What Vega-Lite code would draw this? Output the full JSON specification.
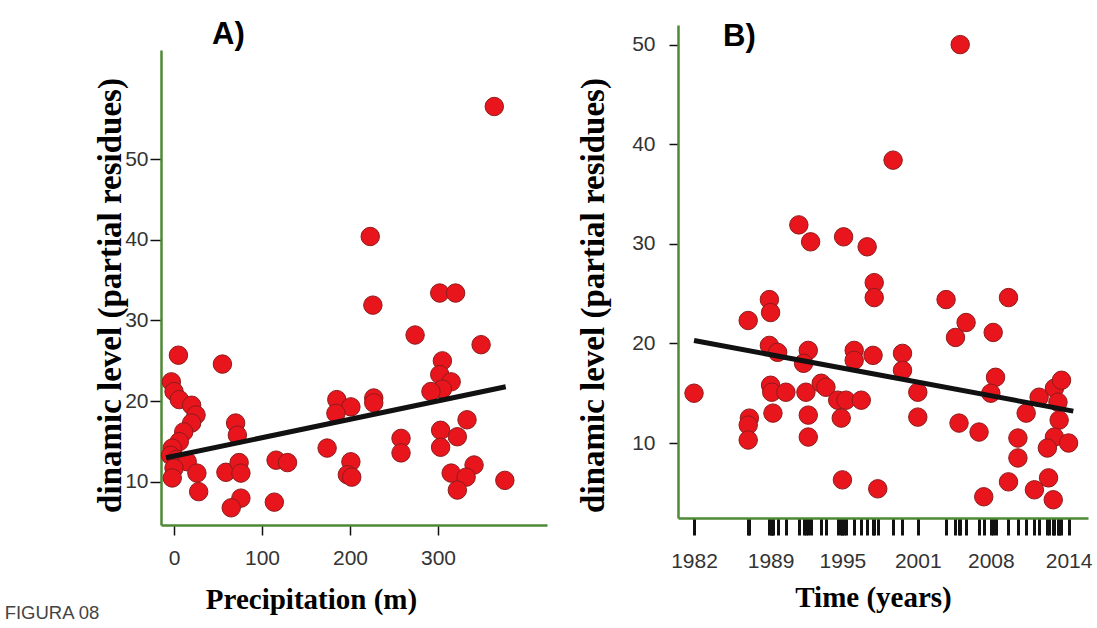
{
  "$schema": "https://vega.github.io/schema/vega-lite/v6.json",
  "background": "white",
  "padding": {"left": 4, "top": 19, "right": 5, "bottom": 5},
  "spacing": 30,
  "title": {"text": "FIGURA 08", "orient": "bottom", "anchor": "start", "frame": "bounds", "font": "Liberation Sans", "fontSize": 18.5, "fontWeight": "normal", "color": "#444", "baseline": "top", "offset": -10, "dx": -90},
  "config": {
    "view": {"stroke": null},
    "axis": {"grid": false, "domainColor": "#4e8a35", "domainWidth": 2.5, "tickColor": "#111", "tickWidth": 1.5, "labelFont": "Liberation Sans", "labelFontSize": 21, "labelColor": "#333", "titleFont": "Liberation Serif", "titleFontWeight": "bold", "titleColor": "#000"}
  },
  "hconcat": [
    {
      "width": 386,
      "height": 500,
      "title": {"text": "A)", "anchor": "start", "frame": "group", "dx": 51, "fontSize": 31, "font": "Liberation Sans", "fontWeight": "bold", "color": "#000", "baseline": "alphabetic", "offset": -50},
      "layer": [
        {
          "data": {"values": [
            {"precip": 364, "level": 56.5}, {"precip": 223, "level": 40.4}, {"precip": 226, "level": 31.9}, {"precip": 274, "level": 28.2},
            {"precip": 302, "level": 33.4}, {"precip": 320, "level": 33.4}, {"precip": 349, "level": 27.0}, {"precip": 305, "level": 25.0},
            {"precip": 302, "level": 23.3}, {"precip": 315, "level": 22.4}, {"precip": 305, "level": 21.5}, {"precip": 292, "level": 21.2},
            {"precip": 333, "level": 17.7}, {"precip": 303, "level": 16.4}, {"precip": 322, "level": 15.6}, {"precip": 303, "level": 14.3},
            {"precip": 341, "level": 12.1}, {"precip": 315, "level": 11.1}, {"precip": 332, "level": 10.6}, {"precip": 322, "level": 9.0},
            {"precip": 376, "level": 10.2}, {"precip": 185, "level": 20.2}, {"precip": 201, "level": 19.3}, {"precip": 184, "level": 18.5},
            {"precip": 227, "level": 20.4}, {"precip": 227, "level": 19.8}, {"precip": 174, "level": 14.2}, {"precip": 258, "level": 15.4},
            {"precip": 258, "level": 13.6}, {"precip": 201, "level": 12.5}, {"precip": 197, "level": 10.9}, {"precip": 202, "level": 10.6},
            {"precip": 5, "level": 25.7}, {"precip": 55, "level": 24.6}, {"precip": -3, "level": 22.4}, {"precip": 0, "level": 21.2},
            {"precip": 6, "level": 20.2}, {"precip": 20, "level": 19.5}, {"precip": 25, "level": 18.3}, {"precip": 20, "level": 17.3},
            {"precip": 11, "level": 16.2}, {"precip": 6, "level": 15.0}, {"precip": -2, "level": 14.2}, {"precip": -4, "level": 13.3},
            {"precip": 3, "level": 12.8}, {"precip": 15, "level": 12.5}, {"precip": 0, "level": 11.7}, {"precip": -2, "level": 10.5},
            {"precip": 26, "level": 11.1}, {"precip": 28, "level": 8.8}, {"precip": 70, "level": 17.3}, {"precip": 72, "level": 15.8},
            {"precip": 59, "level": 11.2}, {"precip": 74, "level": 12.4}, {"precip": 76, "level": 11.1}, {"precip": 76, "level": 8.0},
            {"precip": 65, "level": 6.8}, {"precip": 116, "level": 12.7}, {"precip": 129, "level": 12.4}, {"precip": 114, "level": 7.5}
          ]},
          "mark": {"type": "circle", "size": 340, "fill": "#e8151d", "stroke": "#8e1b1b", "strokeWidth": 1, "opacity": 1},
          "encoding": {
            "x": {"field": "precip", "type": "quantitative", "scale": {"domain": [-14.8, 423.9], "nice": false, "zero": false},
                  "axis": {"values": [0, 100, 200, 300], "title": "Precipitation (m)", "tickSize": 10, "labelPadding": 12, "titleFontSize": 29, "titlePadding": 17, "titleX": 150}},
            "y": {"field": "level", "type": "quantitative", "scale": {"domain": [4.67, 63.5], "range": [500, 25], "nice": false, "zero": false},
                  "axis": {"values": [10, 20, 30, 40, 50], "title": "dinamic level (partial residues)", "tickSize": 11, "labelPadding": 2, "titleFontSize": 33, "titlePadding": -3, "titleY": 270}}
          }
        },
        {
          "data": {"values": [{"precip": -9, "level": 13.0}, {"precip": 377, "level": 21.8}]},
          "mark": {"type": "line", "color": "#111", "strokeWidth": 5},
          "encoding": {
            "x": {"field": "precip", "type": "quantitative"},
            "y": {"field": "level", "type": "quantitative"}
          }
        }
      ]
    },
    {
      "width": 410,
      "height": 493,
      "title": {"text": "B)", "anchor": "start", "frame": "group", "dx": 45, "fontSize": 31, "font": "Liberation Sans", "fontWeight": "bold", "color": "#000", "baseline": "alphabetic", "offset": -52},
      "layer": [
        {
          "data": {"values": [
            {"year": 1982.0, "level": 15.0}, {"year": 1986.6, "level": 22.3}, {"year": 1988.4, "level": 24.4}, {"year": 1988.5, "level": 23.1},
            {"year": 1988.4, "level": 19.8}, {"year": 1989.1, "level": 19.1}, {"year": 1991.7, "level": 19.3}, {"year": 1991.3, "level": 18.0},
            {"year": 1988.5, "level": 15.8}, {"year": 1988.6, "level": 15.1}, {"year": 1989.8, "level": 15.1}, {"year": 1991.5, "level": 15.1},
            {"year": 1992.8, "level": 16.0}, {"year": 1993.2, "level": 15.6}, {"year": 1988.7, "level": 13.0}, {"year": 1986.7, "level": 12.5},
            {"year": 1986.6, "level": 11.8}, {"year": 1986.6, "level": 10.3}, {"year": 1991.7, "level": 12.8}, {"year": 1991.7, "level": 10.6},
            {"year": 1990.9, "level": 31.9}, {"year": 1991.9, "level": 30.2}, {"year": 1994.7, "level": 30.7}, {"year": 1996.7, "level": 29.7},
            {"year": 1997.3, "level": 26.1}, {"year": 1997.3, "level": 24.6}, {"year": 1998.9, "level": 38.4}, {"year": 2004.6, "level": 50.0},
            {"year": 1995.6, "level": 19.3}, {"year": 1995.6, "level": 18.3}, {"year": 1997.2, "level": 18.8}, {"year": 1994.2, "level": 14.3},
            {"year": 1994.9, "level": 14.3}, {"year": 1996.2, "level": 14.3}, {"year": 1994.5, "level": 12.5}, {"year": 1994.6, "level": 6.3},
            {"year": 1997.6, "level": 5.4}, {"year": 1999.7, "level": 19.0}, {"year": 1999.7, "level": 17.3}, {"year": 2001.0, "level": 15.1},
            {"year": 2001.0, "level": 12.6}, {"year": 2003.4, "level": 24.4}, {"year": 2005.1, "level": 22.1}, {"year": 2004.2, "level": 20.6},
            {"year": 2007.4, "level": 21.1}, {"year": 2008.7, "level": 24.6}, {"year": 2007.6, "level": 16.6}, {"year": 2007.2, "level": 15.0},
            {"year": 2004.5, "level": 12.0}, {"year": 2006.2, "level": 11.1}, {"year": 2009.5, "level": 10.5}, {"year": 2009.5, "level": 8.5},
            {"year": 2006.6, "level": 4.6}, {"year": 2008.7, "level": 6.1}, {"year": 2010.2, "level": 13.0}, {"year": 2011.3, "level": 14.6},
            {"year": 2012.6, "level": 15.5}, {"year": 2013.2, "level": 16.3}, {"year": 2012.9, "level": 14.1}, {"year": 2013.0, "level": 12.3},
            {"year": 2012.6, "level": 10.6}, {"year": 2012.0, "level": 9.5}, {"year": 2013.8, "level": 10.0}, {"year": 2012.1, "level": 6.5},
            {"year": 2010.9, "level": 5.3}, {"year": 2012.5, "level": 4.3}
          ]},
          "mark": {"type": "circle", "size": 340, "fill": "#e8151d", "stroke": "#8e1b1b", "strokeWidth": 1, "opacity": 1},
          "encoding": {
            "x": {"field": "year", "type": "quantitative", "scale": {"domain": [1980.64, 2015.45], "nice": false, "zero": false},
                  "axis": {"values": [1982.0, 1986.6, 1986.7, 1988.4, 1988.5, 1988.6, 1988.7, 1989.1, 1989.8, 1990.9, 1991.3, 1991.5, 1991.7, 1991.9, 1992.8, 1993.2, 1994.2, 1994.5, 1994.6, 1994.7, 1994.9, 1995.6, 1996.2, 1996.7, 1997.2, 1997.3, 1997.6, 1998.9, 1999.7, 2001.0, 2003.4, 2004.2, 2004.5, 2004.6, 2005.1, 2006.2, 2006.6, 2007.2, 2007.4, 2007.6, 2008.7, 2009.5, 2010.2, 2010.9, 2011.3, 2012.0, 2012.1, 2012.5, 2012.6, 2012.9, 2013.0, 2013.2, 2013.8],
                           "tickCount": 500,
                           "labelExpr": "datum.value == 1982 ? '1982' : datum.value == 1988.5 ? '1989' : datum.value == 1994.6 ? '1995' : datum.value == 2001 ? '2001' : datum.value == 2007.2 ? '2008' : datum.value == 2013.8 ? '2014' : ''",
                           "labelOverlap": false, "labelFlush": false, "labelBound": false,
                           "title": "Time (years)", "tickSize": 17, "tickWidth": 3, "labelPadding": 15, "titleFontSize": 29, "titlePadding": 12, "titleX": 195}},
            "y": {"field": "level", "type": "quantitative", "scale": {"domain": [2.47, 51.97], "nice": false, "zero": false},
                  "axis": {"values": [10, 20, 30, 40, 50], "title": "dinamic level (partial residues)", "tickSize": 9, "labelPadding": 14, "titleFontSize": 33, "titlePadding": 21, "titleY": 270}}
          }
        },
        {
          "data": {"values": [{"year": 1982.0, "level": 20.3}, {"year": 2014.2, "level": 13.2}]},
          "mark": {"type": "line", "color": "#111", "strokeWidth": 5},
          "encoding": {
            "x": {"field": "year", "type": "quantitative"},
            "y": {"field": "level", "type": "quantitative"}
          }
        }
      ]
    }
  ]
}
